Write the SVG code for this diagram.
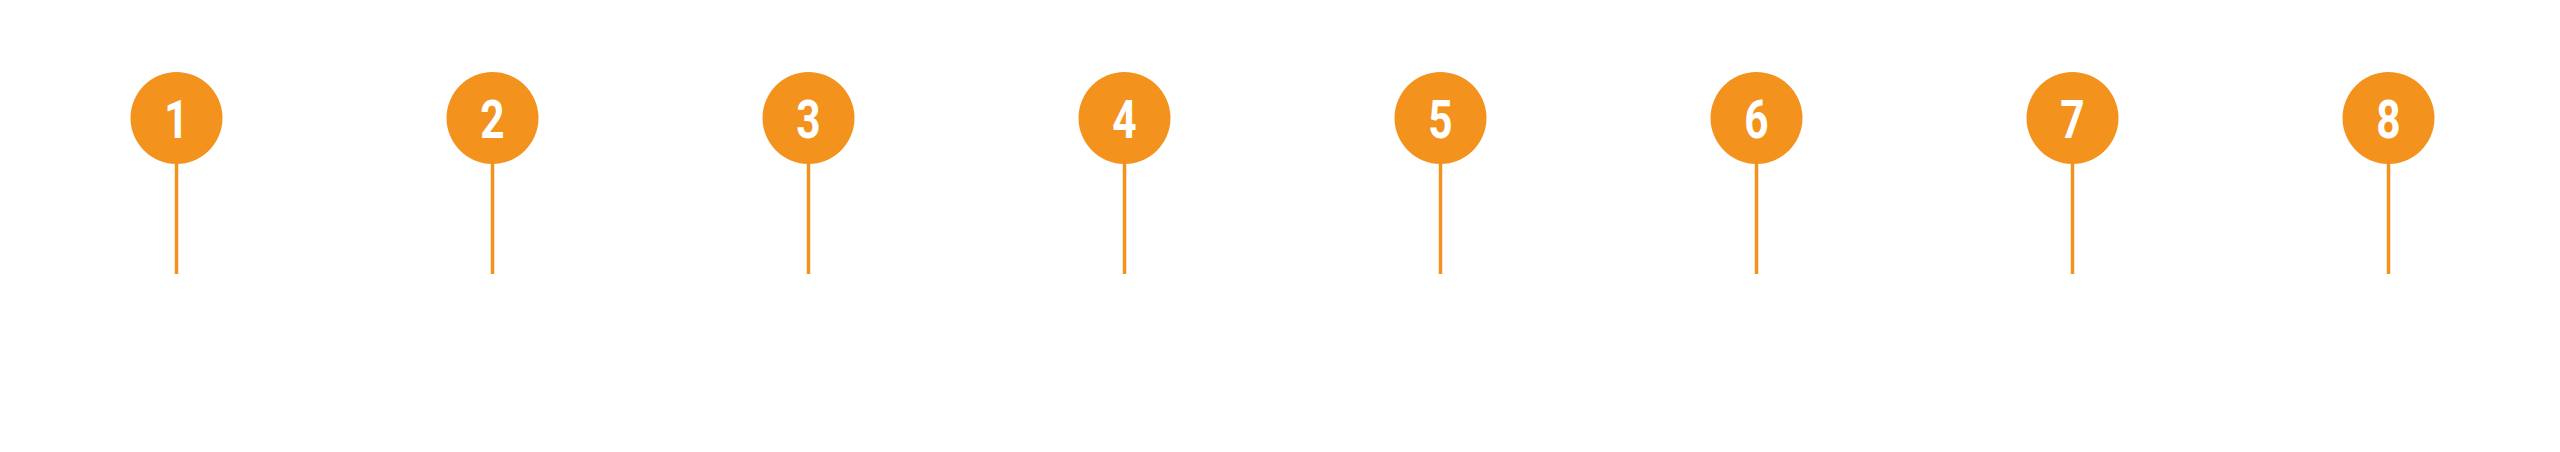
<svg xmlns="http://www.w3.org/2000/svg" width="2560" height="452" viewBox="0 0 2560 452">
<style>
.dot{fill:#F3931E}
.pin{stroke:#F3931E;stroke-width:3.5;fill:none}
.num{fill:#FFFFFF;font-family:Roboto,"Liberation Sans",sans-serif;font-weight:700;font-size:53px;text-anchor:middle}
</style>
<rect width="2560" height="452" fill="#FFFFFF"/>
<g id="connectors">
<line class="pin" x1="176.5" y1="160" x2="176.5" y2="274"/>
<line class="pin" x1="492.5" y1="160" x2="492.5" y2="274"/>
<line class="pin" x1="808.5" y1="160" x2="808.5" y2="274"/>
<line class="pin" x1="1124.5" y1="160" x2="1124.5" y2="274"/>
<line class="pin" x1="1440.5" y1="160" x2="1440.5" y2="274"/>
<line class="pin" x1="1756.5" y1="160" x2="1756.5" y2="274"/>
<line class="pin" x1="2072.5" y1="160" x2="2072.5" y2="274"/>
<line class="pin" x1="2388.5" y1="160" x2="2388.5" y2="274"/>
</g>
<g id="node1"><circle class="dot" cx="176.5" cy="118" r="46"/><text class="num" transform="translate(176.5 137.5) scale(0.8 1)">1</text></g>
<g id="node2"><circle class="dot" cx="492.5" cy="118" r="46"/><text class="num" transform="translate(492.5 137.5) scale(0.8 1)">2</text></g>
<g id="node3"><circle class="dot" cx="808.5" cy="118" r="46"/><text class="num" transform="translate(808.5 137.5) scale(0.8 1)">3</text></g>
<g id="node4"><circle class="dot" cx="1124.5" cy="118" r="46"/><text class="num" transform="translate(1124.5 137.5) scale(0.8 1)">4</text></g>
<g id="node5"><circle class="dot" cx="1440.5" cy="118" r="46"/><text class="num" transform="translate(1440.5 137.5) scale(0.8 1)">5</text></g>
<g id="node6"><circle class="dot" cx="1756.5" cy="118" r="46"/><text class="num" transform="translate(1756.5 137.5) scale(0.8 1)">6</text></g>
<g id="node7"><circle class="dot" cx="2072.5" cy="118" r="46"/><text class="num" transform="translate(2072.5 137.5) scale(0.8 1)">7</text></g>
<g id="node8"><circle class="dot" cx="2388.5" cy="118" r="46"/><text class="num" transform="translate(2388.5 137.5) scale(0.8 1)">8</text></g>
</svg>
